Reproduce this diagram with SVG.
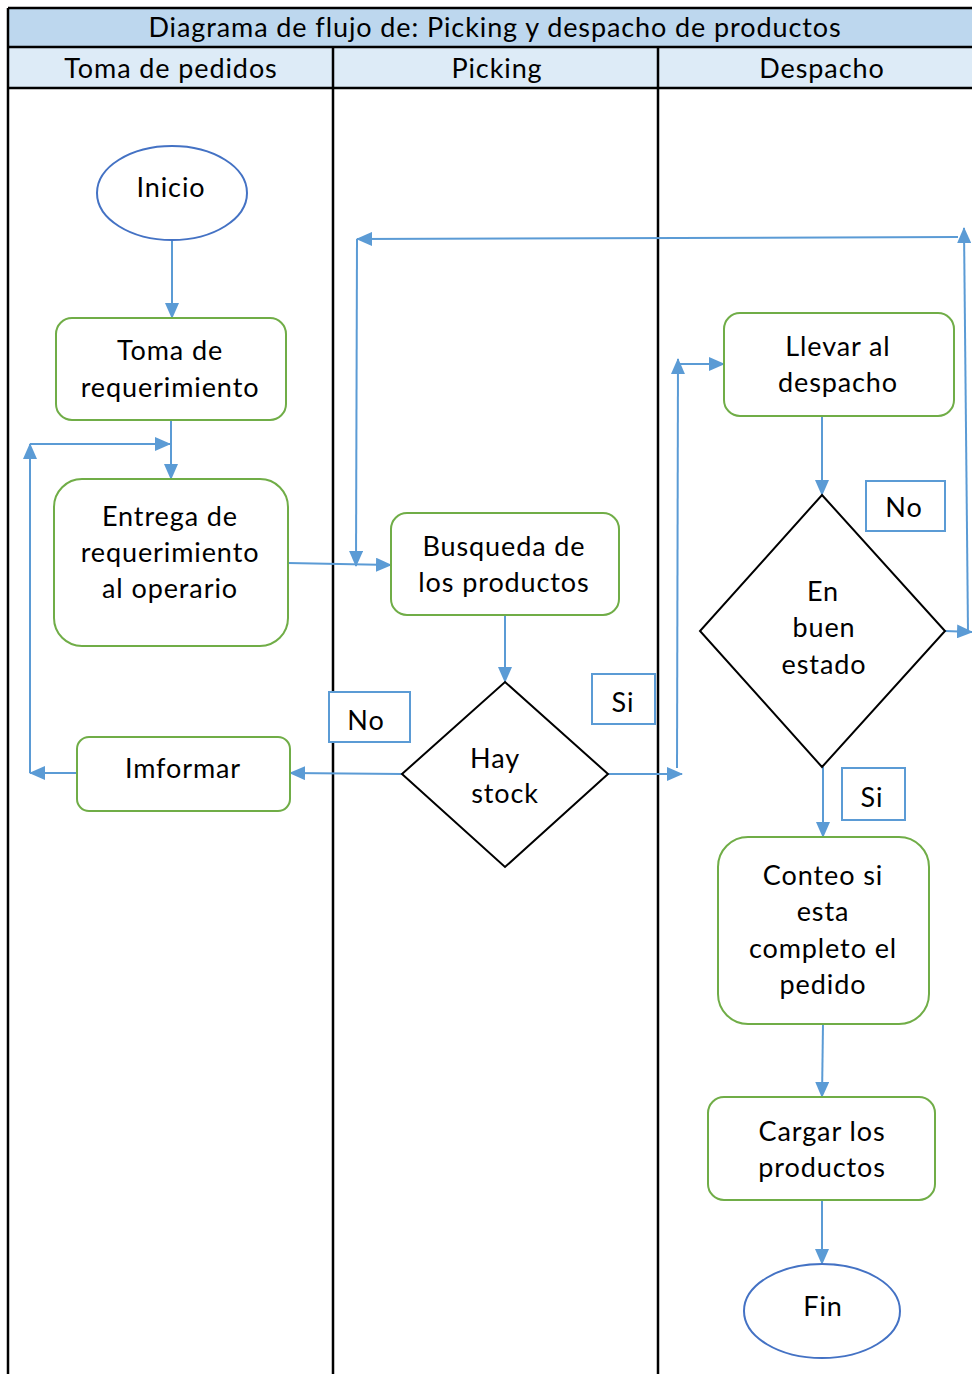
<svg xmlns="http://www.w3.org/2000/svg" width="972" height="1374" viewBox="0 0 972 1374">
  <style>
    text { font-family: Lato, "Open Sans", "Liberation Sans", sans-serif; font-size: 27px; letter-spacing: 0.9px; fill: #000; text-anchor: middle; }
    .lane { stroke: #000; stroke-width: 2.5; fill: none; }
    .proc { fill: #fff; stroke: #70AD47; stroke-width: 2; }
    .term { fill: #fff; stroke: #4472C4; stroke-width: 2; }
    .dec { fill: #fff; stroke: #000; stroke-width: 2; }
    .tag { fill: #fff; stroke: #5B9BD5; stroke-width: 2; }
    .con { stroke: #5B9BD5; stroke-width: 2; fill: none; }
    .arr { marker-end: url(#ah); }
  </style>
  <defs>
    <marker id="ah" markerWidth="16" markerHeight="14" refX="15" refY="7" orient="auto" markerUnits="userSpaceOnUse">
      <path d="M0,0 L16,7 L0,14 Z" fill="#5B9BD5"/>
    </marker>
  </defs>

  <rect width="972" height="1374" fill="#fff"/>

  <!-- swimlane frame -->
  <g id="lanes">
    <rect x="8" y="8" width="970" height="39" fill="#BDD7EE"/>
    <rect x="8" y="47" width="970" height="41" fill="#DDEBF7"/>
    <line class="lane" x1="8" y1="8" x2="972" y2="8"/>
    <line class="lane" x1="8" y1="47" x2="972" y2="47"/>
    <line class="lane" x1="8" y1="88" x2="972" y2="88"/>
    <line class="lane" x1="8" y1="8" x2="8" y2="1374"/>
    <line class="lane" x1="333" y1="47" x2="333" y2="1374"/>
    <line class="lane" x1="658" y1="47" x2="658" y2="1374"/>
    <text x="495" y="37">Diagrama de flujo de: Picking y despacho de productos</text>
    <text x="171" y="78">Toma de pedidos</text>
    <text x="497" y="78">Picking</text>
    <text x="822" y="78">Despacho</text>
  </g>

  <!-- connectors -->
  <g id="connectors">
    <line class="con arr" x1="172" y1="240" x2="172" y2="318"/>
    <line class="con arr" x1="171" y1="420" x2="171" y2="479"/>
    <line class="con arr" x1="77" y1="773" x2="30" y2="773"/>
    <line class="con arr" x1="30" y1="773" x2="30" y2="444"/>
    <line class="con arr" x1="30" y1="444" x2="170" y2="444"/>
    <line class="con arr" x1="288" y1="563" x2="391" y2="565"/>
    <line class="con arr" x1="968" y1="632" x2="964" y2="228"/>
    <line class="con arr" x1="958" y1="237" x2="357" y2="239"/>
    <line class="con arr" x1="357" y1="239" x2="356" y2="566"/>
    <line class="con arr" x1="945" y1="631" x2="972" y2="632"/>
    <line class="con arr" x1="505" y1="615" x2="505" y2="682"/>
    <line class="con arr" x1="402" y1="774" x2="290" y2="773"/>
    <line class="con arr" x1="608" y1="774" x2="682" y2="774"/>
    <line class="con arr" x1="677" y1="768" x2="678" y2="359"/>
    <line class="con arr" x1="678" y1="364" x2="724" y2="364"/>
    <line class="con arr" x1="822" y1="412" x2="822" y2="495"/>
    <line class="con arr" x1="823" y1="767" x2="823" y2="837"/>
    <line class="con arr" x1="823" y1="1024" x2="822" y2="1097"/>
    <line class="con arr" x1="822" y1="1200" x2="822" y2="1264"/>
  </g>

  <g id="inicio">
    <ellipse class="term" cx="172" cy="193" rx="75" ry="47"/>
    <text x="171" y="197">Inicio</text>
  </g>

  <g id="toma-requerimiento">
    <rect class="proc" x="56" y="318" width="230" height="102" rx="16"/>
    <text x="170" y="360">Toma de</text>
    <text x="170" y="397">requerimiento</text>
  </g>

  <g id="entrega-requerimiento">
    <rect class="proc" x="54" y="479" width="234" height="167" rx="28"/>
    <text x="170" y="526">Entrega de</text>
    <text x="170" y="562">requerimiento</text>
    <text x="170" y="598">al operario</text>
  </g>

  <g id="imformar">
    <rect class="proc" x="77" y="737" width="213" height="74" rx="12"/>
    <text x="183" y="778">Imformar</text>
  </g>

  <g id="busqueda">
    <rect class="proc" x="391" y="513" width="228" height="102" rx="16"/>
    <text x="504" y="556">Busqueda de</text>
    <text x="504" y="592">los productos</text>
  </g>

  <g id="hay-stock">
    <polygon class="dec" points="505,682 608,774 505,867 402,774"/>
    <text x="495" y="768">Hay</text>
    <text x="505" y="803">stock</text>
  </g>

  <g id="llevar-despacho">
    <rect class="proc" x="724" y="313" width="230" height="103" rx="16"/>
    <text x="838" y="356">Llevar al</text>
    <text x="838" y="392">despacho</text>
  </g>

  <g id="buen-estado">
    <polygon class="dec" points="822,495 945,631 822,767 700,631"/>
    <text x="823" y="601">En</text>
    <text x="824" y="637">buen</text>
    <text x="824" y="674">estado</text>
  </g>

  <g id="conteo">
    <rect class="proc" x="718" y="837" width="211" height="187" rx="30"/>
    <text x="823" y="885">Conteo si</text>
    <text x="823" y="921">esta</text>
    <text x="823" y="958">completo el</text>
    <text x="823" y="994">pedido</text>
  </g>

  <g id="cargar">
    <rect class="proc" x="708" y="1097" width="227" height="103" rx="16"/>
    <text x="822" y="1141">Cargar los</text>
    <text x="822" y="1177">productos</text>
  </g>

  <g id="fin">
    <ellipse class="term" cx="822" cy="1311" rx="78" ry="47"/>
    <text x="823" y="1316">Fin</text>
  </g>

  <!-- branch labels -->
  <g id="label-no-stock">
    <rect class="tag" x="329" y="692" width="81" height="50"/>
    <text x="366" y="730">No</text>
  </g>
  <g id="label-si-stock">
    <rect class="tag" x="592" y="674" width="63" height="50"/>
    <text x="623" y="712">Si</text>
  </g>
  <g id="label-no-estado">
    <rect class="tag" x="866" y="481" width="79" height="50"/>
    <text x="904" y="517">No</text>
  </g>
  <g id="label-si-estado">
    <rect class="tag" x="842" y="768" width="63" height="52"/>
    <text x="872" y="807">Si</text>
  </g>
</svg>
